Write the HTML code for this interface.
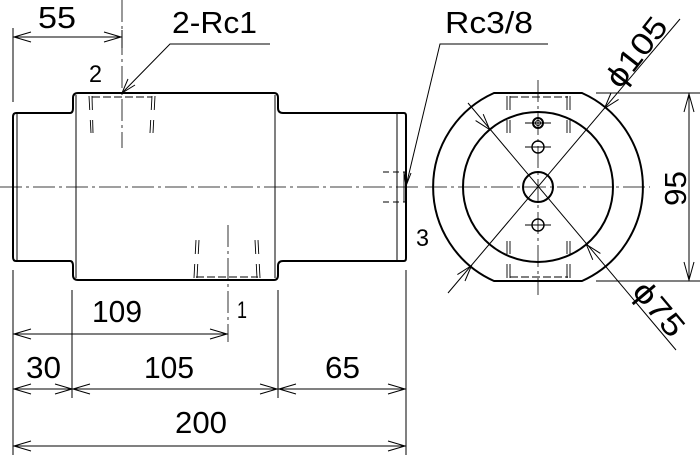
<!DOCTYPE html>
<html><head><style>body{margin:0;background:#fff}svg{display:block}text{font-family:"Liberation Sans",sans-serif;fill:#000}</style></head>
<body>
<svg width="700" height="459" viewBox="0 0 700 459" xmlns="http://www.w3.org/2000/svg">
<g fill="none" stroke="#000" stroke-width="1">
<line x1="0" y1="187" x2="420" y2="187" stroke-dasharray="22,4,3,4" stroke-width="0.8"/>
<line x1="425" y1="187" x2="650" y2="187" stroke-dasharray="22,4,3,4" stroke-width="0.8"/>
<line x1="538" y1="80" x2="538" y2="295" stroke-dasharray="22,4,3,4" stroke-width="0.8"/>
<line x1="122" y1="0" x2="122" y2="148" stroke-dasharray="22,4,3,4" stroke-width="0.8"/>
<line x1="228" y1="225" x2="228" y2="342" stroke-dasharray="22,4,3,4" stroke-width="0.8"/>
<g stroke-width="2">
<path d="M16,113 L70,113 Q73,113 73,108 L73,98 Q73,93 78,93 L274,93 Q278,93 278,98 L278,108 Q278,113 283,113 L404,113 Q406,113 406,116 L406,258 Q406,261 404,261 L283,261 Q278,261 278,266 L278,275 Q278,280 274,280 L78,280 Q73,280 73,275 L73,266 Q73,261 70,261 L16,261 Q13,261 13,257 L13,117 Q13,113 16,113 Z"/>
</g>
<line x1="17" y1="114" x2="17" y2="260"/>
<line x1="76" y1="95" x2="76" y2="278"/>
<line x1="275" y1="95" x2="275" y2="278"/>
<line x1="397" y1="114" x2="397" y2="260"/>
<g stroke-width="0.9">
<line x1="92" y1="97" x2="152" y2="97" stroke-dasharray="8,3"/>
<line x1="89" y1="96" x2="91" y2="133" stroke-dasharray="14,10"/>
<line x1="92" y1="96" x2="93" y2="133" stroke-dasharray="14,10"/>
<line x1="152" y1="96" x2="150" y2="133" stroke-dasharray="14,10"/>
<line x1="155" y1="96" x2="153" y2="133" stroke-dasharray="14,10"/>
<line x1="196" y1="277" x2="258" y2="277" stroke-dasharray="8,3"/>
<line x1="194" y1="278" x2="196" y2="240" stroke-dasharray="14,10"/>
<line x1="197" y1="278" x2="199" y2="240" stroke-dasharray="14,10"/>
<line x1="257" y1="278" x2="255" y2="240" stroke-dasharray="14,10"/>
<line x1="260" y1="278" x2="258" y2="240" stroke-dasharray="14,10"/>
<line x1="383" y1="172" x2="406" y2="172" stroke-dasharray="6,4"/>
<line x1="383" y1="202" x2="406" y2="202" stroke-dasharray="6,4"/>
<line x1="404" y1="172" x2="404" y2="202"/>
</g>
<g stroke-width="2">
<path d="M494,93 L582,93 A103,103 0 0 1 582,281 L494,281 A103,103 0 0 1 494,93 Z"/>
<circle cx="538" cy="187" r="75"/>
<circle cx="538" cy="187" r="15"/>
<circle cx="538" cy="123" r="5"/>
<circle cx="538" cy="147" r="6" stroke-width="1.4"/>
<circle cx="538" cy="225" r="6" stroke-width="1.4"/>
</g>
<circle cx="538" cy="123" r="2.5"/>
<g stroke-width="0.9">
<line x1="510" y1="97" x2="568" y2="97" stroke-dasharray="8,3"/>
<line x1="510" y1="277" x2="568" y2="277" stroke-dasharray="8,3"/>
<line x1="507" y1="96" x2="507" y2="133" stroke-dasharray="14,10"/>
<line x1="510" y1="96" x2="510" y2="133" stroke-dasharray="14,10"/>
<line x1="567" y1="96" x2="567" y2="133" stroke-dasharray="14,10"/>
<line x1="570" y1="96" x2="570" y2="133" stroke-dasharray="14,10"/>
<line x1="507" y1="278" x2="507" y2="241" stroke-dasharray="14,10"/>
<line x1="510" y1="278" x2="510" y2="241" stroke-dasharray="14,10"/>
<line x1="567" y1="278" x2="567" y2="241" stroke-dasharray="14,10"/>
<line x1="570" y1="278" x2="570" y2="241" stroke-dasharray="14,10"/>
<line x1="525" y1="123" x2="551" y2="123"/>
<line x1="525" y1="147" x2="551" y2="147"/>
<line x1="525" y1="225" x2="551" y2="225"/>
</g>
<line x1="680" y1="19" x2="448" y2="293"/>
<line x1="468" y1="103" x2="676" y2="350"/>
<path d="M618.6,99.4 L604.5,108.4 L611,93 M465,281 L471.5,265.6 L457.4,274.6 M483.2,114.2 L489.7,129.6 L475.6,120.6 M600.4,253.4 L586.3,244.4 L592.8,259.8"/>
<polyline points="270,44 170,44 122,93"/>
<path d="M128,79 L122,93 L135,85"/>
<polyline points="548,44 440,44 406,186"/>
<path d="M404,172 L406,186 L411,173"/>
<line x1="596" y1="93" x2="700" y2="93"/>
<line x1="596" y1="281" x2="700" y2="281"/>
<line x1="689" y1="93" x2="689" y2="281"/>
<path d="M684,112 L689,94 L694,112 M684,262 L689,280 L694,262"/>
<line x1="13" y1="28" x2="13" y2="102"/>
<line x1="122" y1="30" x2="122" y2="48"/>
<line x1="13" y1="270" x2="13" y2="455"/>
<line x1="72" y1="290" x2="72" y2="398"/>
<line x1="278" y1="290" x2="278" y2="398"/>
<line x1="406" y1="270" x2="406" y2="455"/>
<line x1="13" y1="37" x2="122" y2="37"/>
<path d="M31,32 L14,37 L31,42 M104,32 L121,37 L104,42"/>
<line x1="13" y1="334" x2="228" y2="334"/>
<path d="M31,329 L14,334 L31,339 M210,329 L227,334 L210,339"/>
<line x1="13" y1="389" x2="406" y2="389"/>
<path d="M31,384 L14,389 L31,394 M55,384 L72,389 L55,394 M90,384 L73,389 L90,394 M260,384 L277,389 L260,394 M296,384 L279,389 L296,394 M388,384 L405,389 L388,394"/>
<line x1="13" y1="446" x2="406" y2="446"/>
<path d="M31,441 L14,446 L31,451 M388,441 L405,446 L388,451"/>
</g>
<g font-size="31">
<text x="38" y="28" textLength="38" lengthAdjust="spacingAndGlyphs">55</text>
<text x="172" y="33" textLength="85" lengthAdjust="spacingAndGlyphs">2-Rc1</text>
<text x="445" y="33" textLength="88" lengthAdjust="spacingAndGlyphs">Rc3/8</text>
<text x="89" y="82" font-size="24" textLength="13" lengthAdjust="spacingAndGlyphs">2</text>
<text x="416" y="246" font-size="24" textLength="13" lengthAdjust="spacingAndGlyphs">3</text>
<text x="237" y="318" font-size="24" textLength="10" lengthAdjust="spacingAndGlyphs">1</text>
<text x="92" y="322" textLength="50" lengthAdjust="spacingAndGlyphs">109</text>
<text x="26" y="378" textLength="35" lengthAdjust="spacingAndGlyphs">30</text>
<text x="144" y="378" textLength="50" lengthAdjust="spacingAndGlyphs">105</text>
<text x="325" y="378" textLength="35" lengthAdjust="spacingAndGlyphs">65</text>
<text x="175" y="433" textLength="52" lengthAdjust="spacingAndGlyphs">200</text>
<text transform="translate(620,90) rotate(-52)" textLength="80" lengthAdjust="spacingAndGlyphs">ϕ105</text>
<text transform="translate(686,206) rotate(-90)" textLength="35" lengthAdjust="spacingAndGlyphs">95</text>
<text transform="translate(631,292) rotate(50)" textLength="62" lengthAdjust="spacingAndGlyphs">ϕ75</text>
</g>
</svg>
</body></html>
